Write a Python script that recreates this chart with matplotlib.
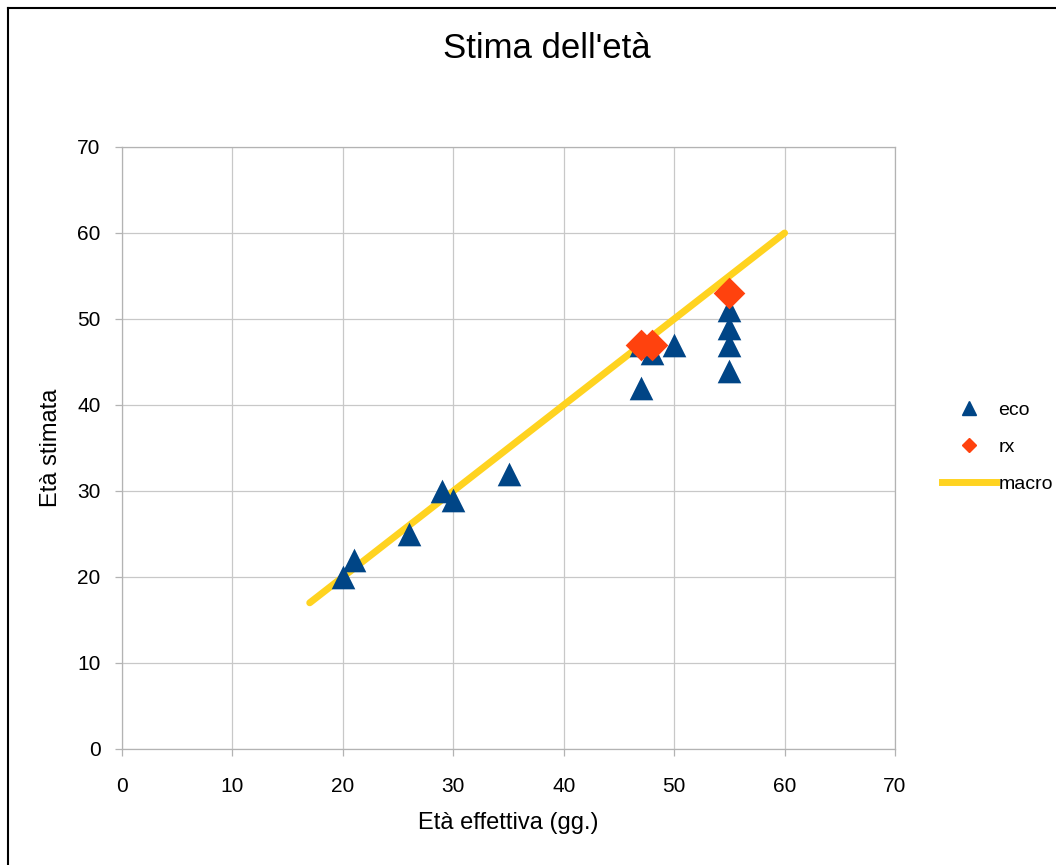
import matplotlib
matplotlib.use("Agg")
import matplotlib.pyplot as plt
from matplotlib.lines import Line2D

plt.rcParams['font.family'] = ['Liberation Sans', 'DejaVu Sans']

eco_x = [20, 21, 26, 29, 30, 35, 47, 47, 48, 50, 55, 55, 55, 55]
eco_y = [20, 22, 25, 30, 29, 32, 42, 47, 46, 47, 51, 49, 47, 44]
rx_x = [47, 48, 55]
rx_y = [47, 47, 53]
macro_x = [17, 60]
macro_y = [17, 60]
ticks = [0, 10, 20, 30, 40, 50, 60, 70]

fig = plt.figure(figsize=(10.56, 8.65), dpi=100)
ax = fig.add_axes([122/1056, 1-749/865, (895-122)/1056, (749-147)/865])

ax.plot(macro_x, macro_y, color='#FFD320', lw=5, solid_capstyle='round', zorder=3)
ax.scatter(eco_x, eco_y, marker='^', s=290, color='#004586', zorder=4, linewidths=0)
ax.scatter(rx_x, rx_y, marker='D', s=260, color='#FF420E', zorder=5, linewidths=0)

ax.set_xlim(0, 70)
ax.set_ylim(0, 70)
ax.set_xticks(ticks)
ax.set_yticks(ticks)
ax.grid(True, color='#c8c8c8', lw=0.9)
ax.set_axisbelow(True)
for s in ax.spines.values():
    s.set_color('#b3b3b3')
    s.set_linewidth(0.9)
ax.tick_params(colors='#b3b3b3', labelcolor='black', labelsize=15, length=5, width=0.9)
ax.tick_params(axis='y', pad=10.5)
ax.tick_params(axis='x', pad=15)
ax.set_xlabel("Età effettiva (gg.)", fontsize=17, labelpad=12)
ax.set_ylabel("Età stimata", fontsize=17, labelpad=11)
fig.text(0.518, 1-49/865, "Stima dell'età", ha='center', va='center', fontsize=25)

handles = [Line2D([], [], marker='^', color='#004586', ls='none', markersize=10),
           Line2D([], [], marker='D', color='#FF420E', ls='none', markersize=7),
           Line2D([], [], color='#FFD320', lw=5)]
fig.legend(handles, ['eco', 'rx', 'macro'], loc='center left', bbox_to_anchor=(942/1056, 1-447/865),
           frameon=False, fontsize=14, handlelength=2.8, handletextpad=0.1, labelspacing=1.0,
           borderaxespad=0, borderpad=0)

# outer border
fig.add_artist(Line2D([8/1056, 8/1056], [0, 1-8/865], color='black', lw=1.5, transform=fig.transFigure))
fig.add_artist(Line2D([8/1056, 1], [1-8/865, 1-8/865], color='black', lw=1.5, transform=fig.transFigure))

fig.savefig("out.png", dpi=100)
